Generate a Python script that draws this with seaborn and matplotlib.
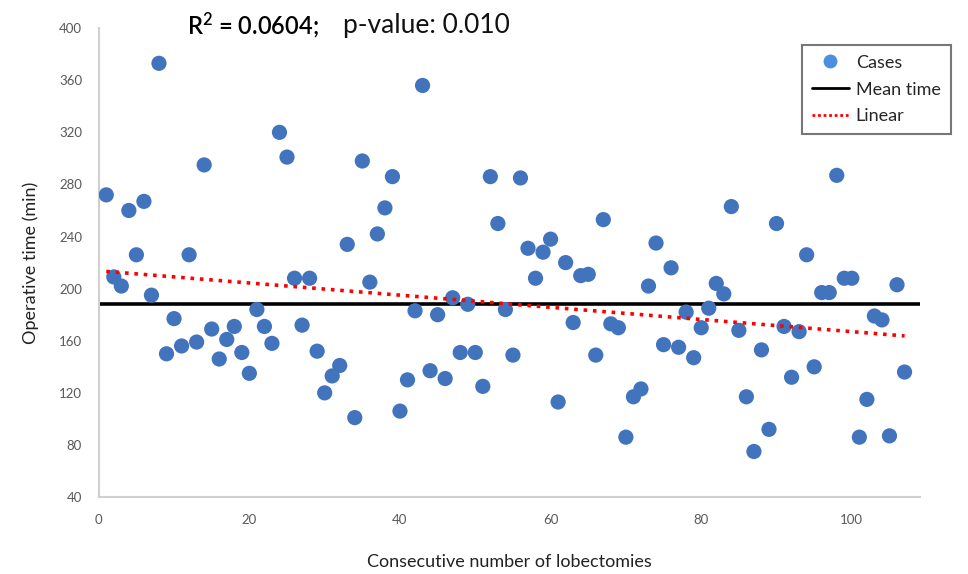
import numpy as np
import pandas as pd
import matplotlib
matplotlib.use("Agg")
import matplotlib.pyplot as plt
import seaborn as sns
from matplotlib.lines import Line2D

case_number = list(range(1, 108))
operative_time = [
    272, 209, 202, 260, 226, 267, 195, 373, 150, 177,
    156, 226, 159, 295, 169, 146, 161, 171, 151, 135,
    184, 171, 158, 320, 301, 208, 172, 208, 152, 120,
    133, 141, 234, 101, 298, 205, 242, 262, 286, 106,
    130, 183, 356, 137, 180, 131, 193, 151, 188, 151,
    125, 286, 250, 184, 149, 285, 231, 208, 228, 238,
    113, 220, 174, 210, 211, 149, 253, 173, 170, 86,
    117, 123, 202, 235, 157, 216, 155, 182, 147, 170,
    185, 204, 196, 263, 168, 117, 75, 153, 92, 250,
    171, 132, 167, 226, 140, 197, 197, 287, 208, 208,
    86, 115, 179, 176, 87, 203, 136,
]
y_ticks = [40, 80, 120, 160, 200, 240, 280, 320, 360, 400]
x_ticks = [0, 20, 40, 60, 80, 100]
r2_text = r"R$^{2}$ = 0.0604;"
p_text = "p-value: 0.010"
legend_labels = ["Cases", "Mean time", "Linear"]

df = pd.DataFrame({"case": case_number, "time": operative_time})

sns.set_theme(style="white")
plt.rcParams["font.family"] = ["Lato", "DejaVu Sans"]
plt.rcParams["mathtext.default"] = "regular"

fig = plt.figure(figsize=(9.68, 5.74), dpi=100)
ax = fig.add_axes([0.102, 0.134, 0.848, 0.817])

point_color = "#4274BE"
sns.scatterplot(data=df, x="case", y="time", ax=ax, s=120, color=point_color,
                edgecolor="none", zorder=3, legend=False)

mean_val = df["time"].mean()
ax.axhline(mean_val, color="black", lw=2.6, zorder=2)

coef = np.polyfit(df["case"], df["time"], 1)
xs = np.array([df["case"].min(), df["case"].max()])
ax.plot(xs, np.polyval(coef, xs), color="#FF0000", lw=2.6, ls=(0, (1, 1.6)), zorder=4)

ax.set_xlim(0, 109)
ax.set_ylim(40, 400)
ax.set_xticks(x_ticks)
ax.set_yticks(y_ticks)
ax.tick_params(axis="both", labelsize=9.5, colors="#595959", length=0, pad=12)
for s in ["top", "right"]:
    ax.spines[s].set_visible(False)
for s in ["left", "bottom"]:
    ax.spines[s].set_color("#D0D0D0")
    ax.spines[s].set_linewidth(1.5)

ax.set_xlabel("Consecutive number of lobectomies", fontsize=13, color="#222222", labelpad=20)
ax.set_ylabel("Operative time (min)", fontsize=13, color="#222222", labelpad=14)

fig.text(0.193, 0.956, r2_text, fontsize=17, color="black", ha="left", va="center",
         fontweight="semibold")
fig.text(0.354, 0.956, p_text, fontsize=19, color="#111111", ha="left", va="center")

handles = [
    Line2D([0], [0], marker="o", color="none", markerfacecolor="#4A8FE0",
           markeredgecolor="none", markersize=10),
    Line2D([0], [0], color="black", lw=2),
    Line2D([0], [0], color="#FF0000", lw=2, ls=(0, (1, 1))),
]
leg = fig.legend(handles, legend_labels, loc="upper left",
                 bbox_to_anchor=(0.829, 0.922), frameon=True, fontsize=13,
                 fancybox=False, edgecolor="#555555", handlelength=2.0,
                 borderpad=0.55, labelspacing=0.6, handletextpad=0.4,
                 borderaxespad=0)
leg.get_frame().set_linewidth(1.5)

fig.savefig("out.png", dpi=100)
